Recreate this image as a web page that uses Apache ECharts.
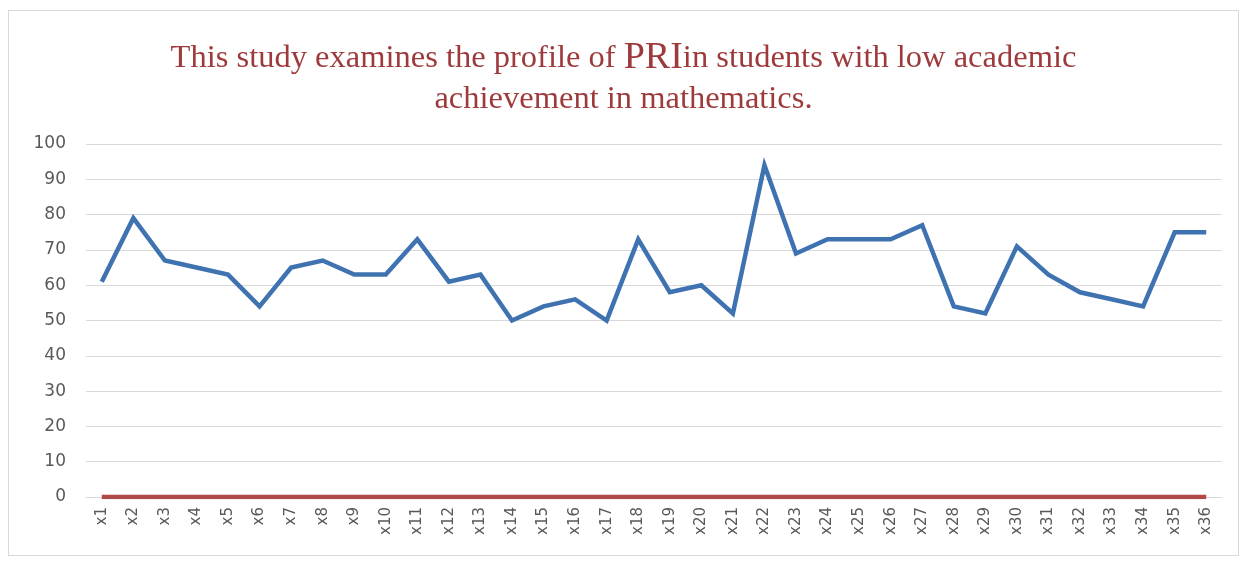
<!DOCTYPE html>
<html>
<head>
<meta charset="utf-8">
<script src="https://cdn.jsdelivr.net/npm/echarts@6/dist/echarts.min.js"></script>
<style>
  html, body { margin: 0; padding: 0; background: #fff; }
  .p-frame {
    position: absolute; left: 8px; top: 10px; width: 1231px; height: 546px;
    border: 1px solid #d9d9d9; box-sizing: border-box;
  }
  #chartPri { position: absolute; left: 0; top: 0; width: 1247px; height: 562px; }
</style>
</head>
<body>
<div class="p-frame"></div>
<div id="chartPri"></div>
<script>
var categories = ['x1','x2','x3','x4','x5','x6','x7','x8','x9','x10','x11','x12',
  'x13','x14','x15','x16','x17','x18','x19','x20','x21','x22','x23','x24',
  'x25','x26','x27','x28','x29','x30','x31','x32','x33','x34','x35','x36'];
var priValues = [61, 79, 67, 65, 63, 54, 65, 67, 63, 63, 73, 61,
  63, 50, 54, 56, 50, 73, 58, 60, 52, 94, 69, 73,
  73, 73, 77, 54, 52, 71, 63, 58, 56, 54, 75, 75];
var baseValues = [0, 0, 0, 0, 0, 0, 0, 0, 0, 0, 0, 0,
  0, 0, 0, 0, 0, 0, 0, 0, 0, 0, 0, 0,
  0, 0, 0, 0, 0, 0, 0, 0, 0, 0, 0, 0];
var yTicks = [0, 10, 20, 30, 40, 50, 60, 70, 80, 90, 100];

var chartDom = document.getElementById('chartPri');
var myChart = echarts.init(chartDom);
var option = {
  animation: false,
  title: {
    text: '{a|This study examines the profile of }{b|PRI}{a|in students with low academic}\n{a|achievement in mathematics.}',
    left: 'center',
    top: 33,
    textStyle: {
      fontWeight: 'normal',
      rich: {
        a: { fontFamily: 'Liberation Serif', fontWeight: 'normal', fontSize: 32.5, color: '#9e3a3c', lineHeight: 41 },
        b: { fontFamily: 'Liberation Serif', fontWeight: 'normal', fontSize: 38, color: '#9e3a3c', lineHeight: 41 }
      }
    }
  },
  grid: { left: 86, right: 25, top: 144, bottom: 65 },
  xAxis: {
    type: 'category',
    data: categories,
    boundaryGap: true,
    axisLine: { show: true, lineStyle: { color: '#d9d9d9' } },
    axisTick: { show: false },
    axisLabel: {
      rotate: 90, interval: 0, color: '#595959', fontSize: 15,
      fontFamily: 'DejaVu Sans', margin: 10
    }
  },
  yAxis: {
    type: 'value',
    min: yTicks[0],
    max: yTicks[yTicks.length - 1],
    interval: 10,
    axisLine: { show: false },
    axisTick: { show: false },
    splitLine: { lineStyle: { color: '#d9d9d9', width: 1 } },
    axisLabel: { color: '#595959', fontSize: 17, fontFamily: 'DejaVu Sans', margin: 20 }
  },
  series: [
    {
      name: 'PRI',
      type: 'line',
      data: priValues,
      symbol: 'none',
      lineStyle: { color: '#3f72b0', width: 4.5, join: 'miter' },
      z: 3
    },
    {
      name: 'Base',
      type: 'line',
      data: baseValues,
      symbol: 'none',
      lineStyle: { color: '#b04a48', width: 4.5 },
      z: 2
    }
  ]
};
myChart.setOption(option);
</script>
</body>
</html>
